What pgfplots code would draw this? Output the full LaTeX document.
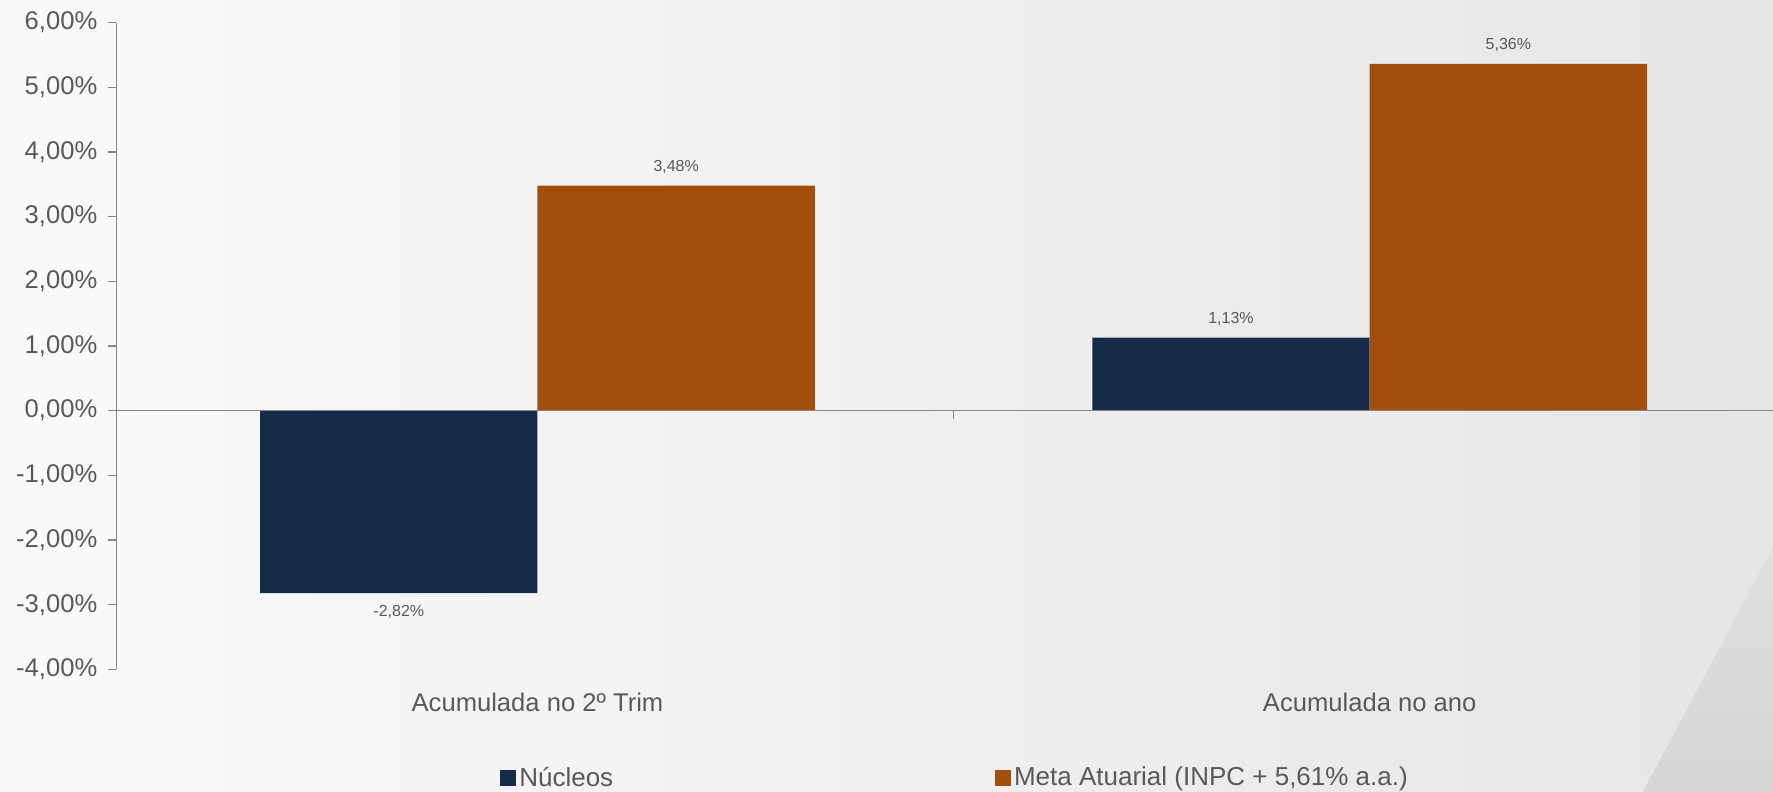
\documentclass[border=0pt]{standalone}
\usepackage{pgfplots}
\pgfplotsset{compat=1.18}
\usepackage{fontspec}
\setmainfont{Liberation Sans}
\definecolor{navy}{HTML}{162B47}
\definecolor{rust}{HTML}{A24F0D}
\definecolor{txt}{HTML}{595959}
\definecolor{axg}{HTML}{868686}
\definecolor{bgl}{HTML}{FAFAFB}
\definecolor{bgr}{HTML}{E6E6E8}
\definecolor{wt}{HTML}{E0E0E2}
\definecolor{wb}{HTML}{D5D5D7}
\begin{document}
\begin{tikzpicture}
\path[use as bounding box] (0pt,0pt) rectangle (886.5pt,396pt);
\shade[left color=bgl, right color=bgr] (0pt,0pt) rectangle (886.5pt,396pt);
\shade[top color=wt, bottom color=wb] (821.5pt,0pt) -- (886.5pt,0pt) -- (886.5pt,122.5pt) -- cycle;
\begin{axis}[
  at={(58.2pt,61.3pt)}, anchor=south west,
  x=416.1pt, y=32.34pt,
  xmin=-0.506, xmax=1.4846, ymin=-4, ymax=6,
  axis y line=left, axis x line=bottom,
  x axis line style={draw=none},
  y axis line style={-, draw=axg, line width=0.75pt},
  xtick={0,1},
  xticklabels={Acumulada no 2º Trim, Acumulada no ano},
  major x tick style={draw=none},
  ytick={-4,-3,...,6},
  tick align=outside, major tick length=4pt,
  major y tick style={draw=axg, line width=0.75pt},
  /pgf/number format/assume math mode=true,
  yticklabel={\pgfmathprintnumber[fixed,fixed zerofill,precision=2,use comma]{\tick}\%},
  tick label style={font=\fontsize{12.8}{15}\selectfont, text=txt},
  yticklabel style={xshift=-2pt},
  xticklabel style={yshift=-4pt},
  ybar=0pt, bar width=0.3333,
  nodes near coords={\pgfmathprintnumber[fixed,fixed zerofill,precision=2,use comma]{\pgfplotspointmeta}\%},
  nodes near coords style={font=\fontsize{8}{9}\selectfont, text=txt, inner ysep=6pt},
  legend columns=2,
  legend style={at={(0.228,-0.168)}, anchor=west, draw=none, fill=none,
    font=\fontsize{13}{15}\selectfont, text=txt,
    nodes={inner sep=1.5pt},
    /tikz/every even column/.append style={column sep=189.5pt}},
  legend image code/.code={\fill[#1] (0pt,-3.95pt) rectangle (7.9pt,3.95pt);},
]
\addplot[fill=navy, draw=none] coordinates {(0,-2.82) (1,1.13)};
\addlegendentry{Núcleos}
\addplot[fill=rust, draw=none] coordinates {(0,3.48) (1,5.36)};
\addlegendentry{Meta Atuarial (INPC + 5,61\% a.a.)}
\draw[axg, line width=0.75pt] (axis cs:-0.506,0) -- (axis cs:1.4846,0);
\draw[axg, line width=0.75pt] (axis cs:0.5,0) -- ++(0pt,-4pt);
\end{axis}
\end{tikzpicture}
\end{document}
